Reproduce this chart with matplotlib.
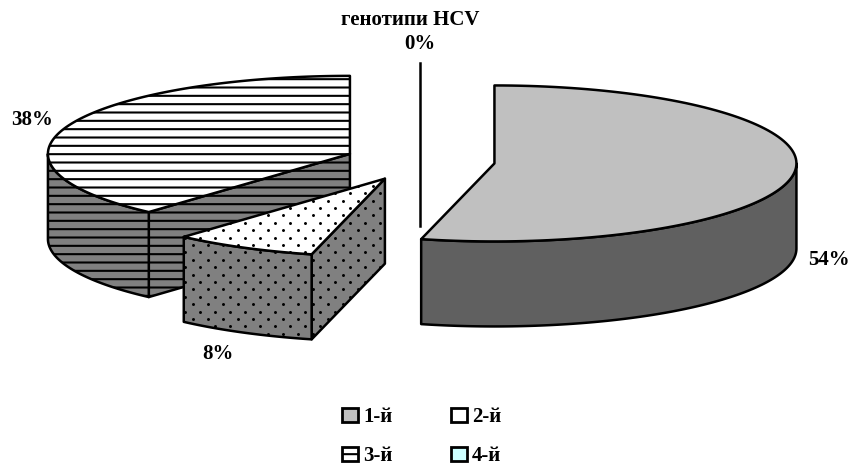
import numpy as np
import matplotlib
matplotlib.use("Agg")
import matplotlib.pyplot as plt
from matplotlib.patches import Polygon, Patch

plt.rcParams['font.family'] = ['Liberation Serif', 'DejaVu Serif']
plt.rcParams['hatch.linewidth'] = 1.5

categories = ['1-й', '2-й', '3-й', '4-й']
shares = [53.9, 7.7, 38.4, 0]
legend_colors = ['#C0C0C0', 'white', 'white', '#CCFFFF']
legend_hatches = [None, None, '--', None]

title = 'генотипи HCV'

# pie geometry, in pixels of the picture
CX, CY = 420, 161
RX, RY = 302, 78
DEPTH = 85
EXPLODE_X, EXPLODE_Y = 75, 20
LW = 1.8

top_colors = ['#C0C0C0', 'white', 'white', '#CCFFFF']
side_colors = ['#606060', '#808080', '#808080', '#80A0A0']
patterns = [None, 'dots', 'lines', None]

fig = plt.figure(figsize=(8.52, 4.66), dpi=100)
ax = fig.add_axes([0, 0, 1, 1])
ax.set_xlim(0, 852)
ax.set_ylim(466, 0)
ax.axis('off')


def rim(cx, cy, a0, a1, n=120):
    """Points of the ellipse, angle runs clockwise from the top."""
    t = np.radians(np.linspace(a0, a1, n))
    return np.column_stack([cx + RX * np.sin(t), cy - RY * np.cos(t)])


def add_dots(patch):
    # staggered dot grid, clipped to the face
    for i, y in enumerate(np.arange(60, 360, 7.4)):
        x = np.arange(170 + 7.5 * (i % 2), 400, 15)
        s = ax.scatter(x, np.full_like(x, y), s=4.5, c='black', linewidths=0,
                       zorder=patch.get_zorder())
        s.set_clip_path(patch)


def face(points, color, pattern, z):
    hatch = '--' if pattern == 'lines' else None
    p = Polygon(points, closed=True, facecolor=color, edgecolor='black',
                linewidth=LW, hatch=hatch, zorder=z, joinstyle='round')
    ax.add_patch(p)
    if pattern == 'dots':
        add_dots(p)
    return p


def draw_slice(start, stop, top_c, side_c, pattern, z):
    mid = np.radians((start + stop) / 2)
    cx = CX + EXPLODE_X * np.sin(mid)
    cy = CY - EXPLODE_Y * np.cos(mid)

    # an empty slice is only a line from the rim down the axis
    if stop - start < 1e-9:
        ax.plot([cx, cx], [cy - RY, cy + DEPTH], color='black', lw=LW, zorder=z)
        return

    # cut face on the leading edge
    if 90 < start < 270:
        p = rim(cx, cy, start, start, 1)[0]
        face([(cx, cy), p, (p[0], p[1] + DEPTH), (cx, cy + DEPTH)], side_c, pattern, z)

    # outer wall, front half of the rim only
    a0, a1 = max(start, 90), min(stop, 270)
    if a1 > a0:
        arc = rim(cx, cy, a0, a1)
        low = arc + [0, DEPTH]
        face(np.vstack([arc, low[::-1]]), side_c, pattern, z)

    # top surface
    arc = rim(cx, cy, start, stop)
    face(np.vstack([[(cx, cy)], arc]), top_c, pattern, z)


# back slices first so the exploded ones sit on top
total = sum(shares)
ends = np.cumsum(shares) / total * 360
starts = ends - np.array(shares) / total * 360
for i, z in zip([2, 3, 0, 1], [2, 3, 4, 5]):
    draw_slice(starts[i], ends[i], top_colors[i], side_colors[i], patterns[i], z)

lab = dict(fontsize=15, fontweight='bold', ha='center', va='center')
ax.text(410, 20, title, **lab)
ax.text(420, 44, f'{shares[3]:.0f}%', **lab)
ax.text(829, 260, f'{shares[0]:.0f}%', **lab)
ax.text(218, 354, f'{shares[1]:.0f}%', **lab)
ax.text(32, 120, f'{shares[2]:.0f}%', **lab)

# legend fills by column, the picture reads by row
order = [0, 2, 1, 3]
handles = [Patch(facecolor=legend_colors[i], edgecolor='black', linewidth=2,
                 hatch=legend_hatches[i]) for i in order]
ax.legend(handles, [categories[i] for i in order], ncol=2, frameon=False,
          prop={'size': 15, 'weight': 'bold'},
          handlelength=0.77, handleheight=0.65, handletextpad=0.24,
          columnspacing=2.8, labelspacing=0.9, borderpad=0, borderaxespad=0,
          loc='lower left', bbox_to_anchor=(342 / 852, 0))

fig.savefig('out.png', dpi=100)
